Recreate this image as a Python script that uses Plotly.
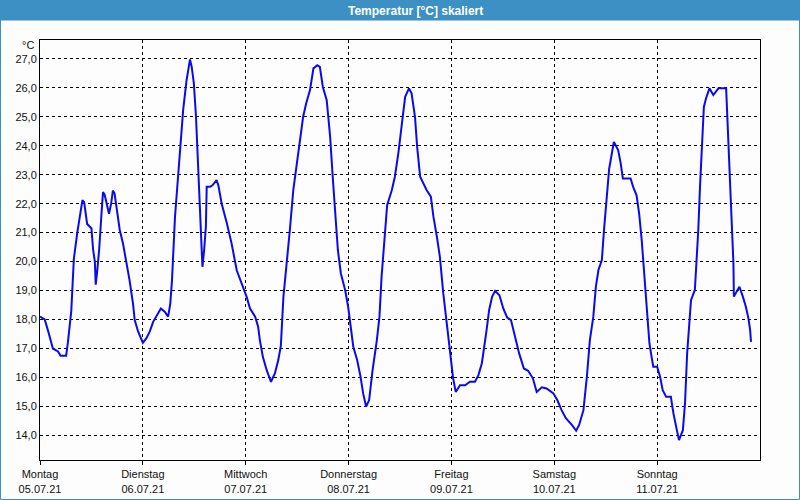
import plotly.graph_objects as go

# Time in hours since Monday 05.07.21 00:00, temperature in °C
hours = [0.0, 1.1, 1.9, 3.0, 4.2, 4.8, 6.1, 6.5, 7.3, 7.7, 7.9, 8.7, 9.3, 9.9, 10.3, 11.0,
         12.0, 12.4, 12.8, 13.0, 13.3, 13.8, 14.3, 14.7, 15.1, 15.6, 16.1, 16.6, 17.0, 17.4,
         18.0, 18.6, 19.4, 20.1, 20.9, 21.7, 22.1, 22.9, 23.6, 24.0, 24.8, 25.6, 26.4, 27.5,
         28.2, 29.1, 29.9, 30.4, 30.8, 31.5, 32.7, 33.4, 34.2, 34.8, 35.0, 35.4, 35.9, 36.4,
         36.8, 37.1, 37.6, 37.9, 38.3, 38.7, 38.9, 39.7, 40.3, 40.8, 41.2, 41.6, 42.4, 43.6,
         44.7, 45.9, 47.1, 48.2, 49.0, 50.2, 50.9, 51.3, 52.0, 52.9, 53.9, 54.8, 55.6, 56.2,
         56.8, 57.6, 58.3, 59.1, 59.9, 60.7, 61.4, 62.1, 63.0, 63.8, 64.7, 65.3, 66.0, 66.9,
         67.7, 68.3, 68.8, 69.5, 70.2, 71.2, 71.9, 72.5, 73.1, 74.0, 74.8, 75.4, 76.1, 76.8,
         77.6, 78.6, 79.2, 79.7, 80.5, 81.0, 82.1, 82.8, 83.6, 84.4, 85.2, 86.1, 86.7, 87.5,
         88.0, 88.7, 89.4, 90.2, 91.2, 91.8, 92.6, 93.3, 94.1, 94.9, 95.7, 96.4, 97.0, 98.0,
         99.2, 100.3, 101.5, 102.3, 103.1, 103.7, 104.2, 104.8, 105.5, 106.2, 107.2, 108.1,
         109.0, 109.9, 110.8, 111.8, 112.9, 113.9, 115.0, 115.9, 117.1, 118.2, 119.8, 120.7,
         121.7, 122.7, 124.1, 125.1, 125.8, 126.8, 127.6, 128.3, 129.1, 129.7, 130.3, 131.1,
         131.6, 132.2, 132.8, 133.9, 134.9, 135.5, 136.0, 137.8, 138.4, 139.2, 139.8, 140.4,
         140.8, 141.3, 141.7, 142.2, 142.7, 143.1, 144.0, 144.7, 145.3, 146.1, 147.2, 147.8,
         148.6, 149.1, 150.0, 150.5, 151.0, 151.5, 151.9, 152.8, 153.2, 153.6, 154.0, 154.4,
         154.9, 155.4, 156.2, 157.1, 158.3, 160.1, 160.5, 161.0, 161.4, 161.8, 161.9, 162.6,
         163.2, 164.0, 164.7, 165.3, 165.7, 165.9]
temps = [18.1, 18.0, 17.6, 17.0, 16.9, 16.75, 16.75, 17.2, 18.3, 19.5, 20.1, 21.0, 21.55, 22.12, 22.05, 21.3,
         21.15, 20.4, 20.0, 19.2, 19.6, 20.4, 21.55, 22.4, 22.3, 22.0, 21.65, 22.0, 22.45, 22.35,
         21.8, 21.1, 20.6, 20.05, 19.35, 18.55, 17.98, 17.58, 17.35, 17.2, 17.35, 17.58, 17.92, 18.2,
         18.38, 18.27, 18.1, 18.55, 19.36, 21.55, 23.85, 25.23, 26.26, 26.72, 26.98, 26.72, 26.15, 25.0,
         23.62, 22.0, 20.86, 19.82, 20.4, 21.2, 22.58, 22.58, 22.64, 22.75, 22.81, 22.64, 22.0, 21.32,
         20.63, 19.7, 19.25, 18.79, 18.38, 18.1, 17.75, 17.29, 16.71, 16.25, 15.85, 16.14, 16.6, 17.1,
         18.79, 19.94, 21.09, 22.47, 23.39, 24.31, 25.0, 25.46, 25.92, 26.67, 26.78, 26.72, 26.03, 25.57,
         24.31, 22.93, 21.78, 20.4, 19.59, 19.02, 18.44, 17.75, 17.06, 16.6, 16.02, 15.45, 14.99, 15.22,
         16.25, 17.29, 18.09, 19.47, 20.97, 21.95, 22.47, 22.93, 23.73, 24.77, 25.69, 25.98, 25.81, 25.0,
         23.96, 22.93, 22.7, 22.47, 22.24, 21.55, 20.86, 20.17, 18.9, 17.8, 16.71, 15.97, 15.5, 15.73,
         15.73, 15.85, 15.85, 16.08, 16.49, 17.06, 17.63, 18.33, 18.79, 18.99, 18.84, 18.38,
         18.07, 17.98, 17.4, 16.83, 16.31, 16.23, 15.97, 15.5, 15.66, 15.62, 15.45, 15.22,
         14.87, 14.59, 14.36, 14.16, 14.36, 14.87, 16.02, 17.29, 18.09, 19.13, 19.71, 20.05,
         21.09, 22.06, 23.2, 24.13, 23.85, 23.39, 22.87, 22.87, 22.58, 22.29, 21.66, 20.74,
         19.94, 19.02, 18.09, 17.18, 16.71, 16.37, 16.37, 16.02, 15.56, 15.33, 15.33, 14.76,
         14.18, 13.84, 14.18, 15.1, 16.83, 17.87, 18.67, 19.02, 19.94, 21.09, 22.58, 24.08,
         25.34, 25.63, 25.98, 25.75, 25.98, 25.98, 24.54, 22.93, 21.43, 19.94, 18.79, 18.96,
         19.13, 18.79, 18.44, 18.04, 17.63, 17.23]

day_hours = [0, 24, 48, 72, 96, 120, 144]
day_names = ["Montag", "Dienstag", "Mittwoch", "Donnerstag", "Freitag", "Samstag", "Sonntag"]
day_dates = ["05.07.21", "06.07.21", "07.07.21", "08.07.21", "09.07.21", "10.07.21", "11.07.21"]
y_ticks = list(range(14, 28))

title_text = "Temperatur [°C] skaliert"
unit_text = "°C"

BAR = "#3c90c3"
LINE = "#0a0aee"
BG = "#fcfdfc"
FONT = "Liberation Sans, Arial, sans-serif"

fig = go.Figure()
fig.add_trace(go.Scatter(x=hours, y=temps, mode="lines",
                         line=dict(color=LINE, width=2), hoverinfo="skip"))

PW, PH = 720.0, 420.0
L, T = 40.0, 40.0

def px_x(p):
    return (p - L) / PW

def px_y(p):
    return 1 - (p - T) / PH

fig.update_layout(
    width=800, height=500,
    margin=dict(l=40, r=40, t=40, b=40, autoexpand=False),
    paper_bgcolor=BG, plot_bgcolor=BG,
    showlegend=False,
    separators=",.",
    font=dict(family=FONT, size=11, color="#111111"),
    xaxis=dict(range=[0, 168], tickvals=day_hours,
               ticktext=[f"{n}<br>{d}" for n, d in zip(day_names, day_dates)],
               showgrid=True, gridcolor="black", gridwidth=1, griddash="3px,3px",
               showline=True, linecolor="black", linewidth=1, mirror=True,
               ticks="outside", ticklen=4, tickcolor="black", zeroline=False,
               automargin=False, ticklabelstandoff=0,
               tickfont=dict(family=FONT, size=11, color="#111111")),
    yaxis=dict(range=[13.15, 27.65], tickvals=y_ticks, tickformat=".1f",
               showgrid=True, gridcolor="black", gridwidth=1, griddash="3px,3px",
               showline=True, linecolor="black", linewidth=1, mirror=True,
               ticks="", zeroline=False, automargin=False,
               tickfont=dict(family=FONT, size=11, color="#111111")),
    shapes=[
        dict(type="rect", xref="paper", yref="paper",
             x0=px_x(0), x1=px_x(800), y0=px_y(20.5), y1=px_y(0),
             fillcolor=BAR, line=dict(width=0), layer="above"),
        dict(type="rect", xref="paper", yref="paper",
             x0=px_x(0.5), x1=px_x(799.5), y0=px_y(499.5), y1=px_y(0.5),
             fillcolor="rgba(0,0,0,0)", line=dict(color=BAR, width=1), layer="above"),
    ],
    annotations=[
        dict(text=f"<b>{title_text}</b>", xref="paper", yref="paper",
             x=px_x(415), y=px_y(10.5), xanchor="center", yanchor="middle",
             showarrow=False, font=dict(family=FONT, size=12, color="white")),
        dict(text=unit_text, xref="paper", yref="paper",
             x=px_x(36), y=px_y(45), xanchor="right", yanchor="middle",
             showarrow=False, font=dict(family=FONT, size=11, color="#111111")),
    ],
)

fig.write_html("out.html")
